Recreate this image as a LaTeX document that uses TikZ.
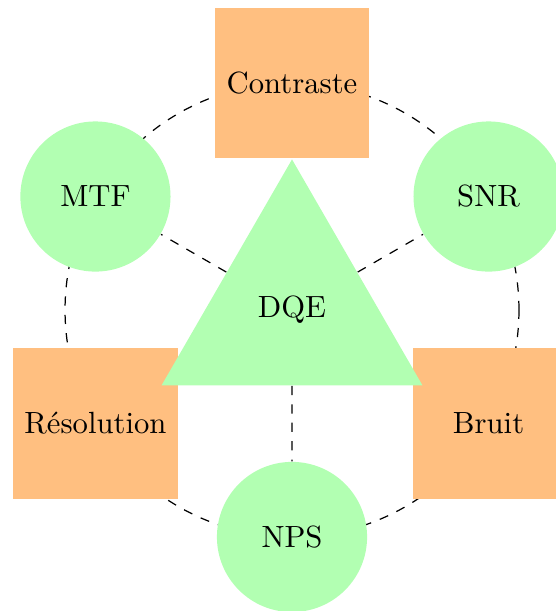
\documentclass[tikz,border=0pt]{standalone}
\usetikzlibrary{shapes.geometric}
\begin{document}
\begin{tikzpicture}[
    rond/.style={circle,fill=green!30,minimum size=1.72cm},
    carre/.style={rectangle,fill=orange!50,minimum size=1.72cm,inner sep=3.8pt},
    lien/.style={dashed},
  ]
  \useasboundingbox (-3.345,-3.448) rectangle (3.024,3.551);
  \draw[lien](0,0) circle (2.6cm);
  % noeuds autour
  \node[carre] (contraste) at (90:2.6) {Contraste};
  \node[rond] (snr) at (30:2.6) {SNR};
  \node[carre] (bruit) at (-30:2.6) {Bruit};
  \node[rond] (nps) at (-90:2.6) {NPS};
  \node[carre] (resolution) at (210:2.6) {Résolution};
  \node[rond] (mtf) at (150:2.6) {MTF};
  % centre
  \node[regular polygon,regular polygon sides=3,fill=green!30,minimum size=3.45cm] (dqe) at (0,0) {DQE};
  \draw[lien] (dqe) -- (mtf);
  \draw[lien] (dqe) -- (snr);
  \draw[lien] (dqe) -- (nps);
\end{tikzpicture}
\end{document}
